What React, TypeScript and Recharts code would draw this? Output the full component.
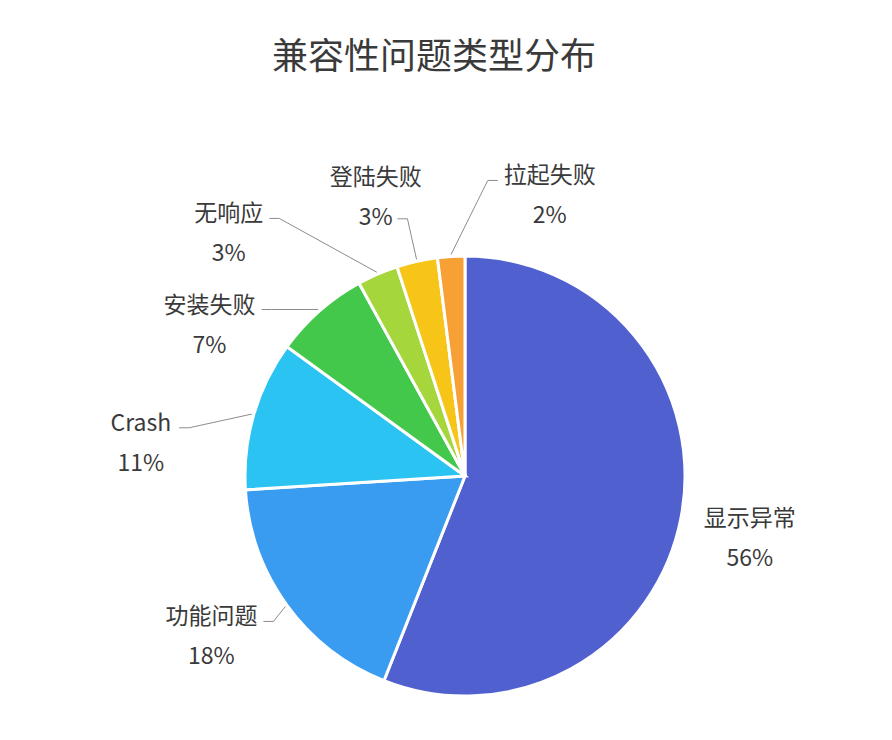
import { PieChart, Pie, Cell } from "recharts";

const categories = ["显示异常", "功能问题", "Crash", "安装失败", "无响应", "登陆失败", "拉起失败"];
const shares = [56, 18, 11, 7, 3, 3, 2];
const colors = ["#5160cf", "#3a9cf0", "#2ac3f2", "#43c84c", "#a5d63c", "#f6c518", "#f6a035"];

// label placement: extra radius beyond the pie and clockwise angle nudge (degrees)
const labelLayout = [
  { dr: 71, da: 1 },
  { dr: 79, da: 4 },
  { dr: 106, da: -10 },
  { dr: 78, da: -17.6 },
  { dr: 120, da: -20.6 },
  { dr: 75, da: -5 },
  { dr: 75, da: 20.3 },
];

const data = categories.map((name, i) => ({ name, value: shares[i] }));

const RAD = Math.PI / 180;
const FONT = "'Noto Sans CJK SC', 'Noto Sans', sans-serif";
const SIZE = 23;

function textWidth(s: string, size: number) {
  let w = 0;
  for (const ch of s) {
    if (/[\u4e00-\u9fff]/.test(ch)) w += size;
    else if (ch === "%") w += size * 0.8;
    else w += size * 0.56;
  }
  return w;
}

function renderLabel(props: any) {
  const { cx, cy, midAngle, outerRadius, percent, name, index } = props;
  const lay = labelLayout[index];
  const ang = midAngle - lay.da;
  const r = outerRadius + lay.dr;
  const lx = cx + r * Math.cos(-ang * RAD);
  const ly = cy + r * Math.sin(-ang * RAD);
  const pct = `${Math.round(percent * 100)}%`;
  const nameY = ly - 20;
  const pctY = ly + 20;
  const nw = textWidth(name, SIZE);
  const pw = textWidth(pct, SIZE);
  const ex = cx + (outerRadius + 2) * Math.cos(-midAngle * RAD);
  const ey = cy + (outerRadius + 2) * Math.sin(-midAngle * RAD);

  let ax: number;
  let ay: number;
  let dir: number;
  const bx0 = lx - nw / 2;
  const bx1 = lx + nw / 2;
  if (ex > bx0 && ex < bx1) {
    // pie edge lies below the label: attach to the side of the percent line
    dir = ex > lx ? 1 : -1;
    ax = lx + dir * (pw / 2 + 6);
    ay = pctY + 4;
  } else {
    dir = ex > lx ? 1 : -1;
    ax = lx + dir * (nw / 2 + 6);
    ay = nameY + 7;
  }
  const dist = Math.hypot(ex - ax, ey - ay);
  let line = null;
  if (dist > 20) {
    const kx = ax + dir * 10;
    line = (
      <polyline
        points={`${ex},${ey} ${kx},${ay} ${ax},${ay}`}
        fill="none"
        stroke="#8c8c8c"
        strokeWidth={1}
      />
    );
  }
  return (
    <g key={`lbl-${index}`}>
      {line}
      <text x={lx} y={nameY} textAnchor="middle" dominantBaseline="central" fontSize={SIZE} fill="#3a3a3a" fontFamily={FONT}>
        {name}
      </text>
      <text x={lx} y={pctY} textAnchor="middle" dominantBaseline="central" fontSize={SIZE} fill="#3a3a3a" fontFamily={FONT}>
        {pct}
      </text>
    </g>
  );
}

export default function App() {
  return (
    <div style={{ position: "absolute", left: 0, top: 0, width: 892, height: 740, background: "#fff" }}>
      <div
        style={{
          position: "absolute",
          left: 0,
          top: 31,
          width: 868,
          textAlign: "center",
          fontSize: 36,
          lineHeight: "44px",
          color: "#3a3a3a",
          fontFamily: FONT,
        }}
      >
        兼容性问题类型分布
      </div>
      <PieChart width={892} height={740} margin={{ top: 0, right: 0, bottom: 0, left: 0 }}>
        <Pie
          data={data}
          dataKey="value"
          nameKey="name"
          cx={465}
          cy={476}
          outerRadius={220}
          startAngle={90}
          endAngle={-270}
          stroke="#ffffff"
          strokeWidth={3}
          label={renderLabel}
          labelLine={false}
          isAnimationActive={false}
        >
          {data.map((d, i) => (
            <Cell key={d.name} fill={colors[i]} />
          ))}
        </Pie>
      </PieChart>
    </div>
  );
}
